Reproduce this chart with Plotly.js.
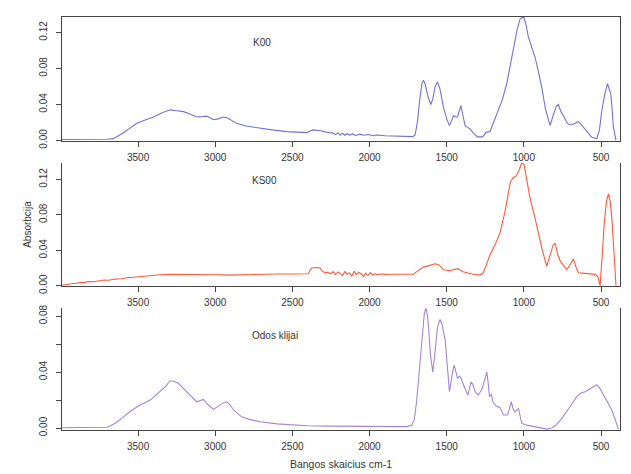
<!DOCTYPE html>
<html>
<head>
<meta charset="utf-8">
<script src="https://cdn.plot.ly/plotly-3.0.1.min.js"></script>
<style>html,body{margin:0;padding:0;background:#fff;}#chart{width:631px;height:474px;}</style>
</head>
<body>
<div id="chart"></div>
<script>
// K00 spectrum
const k00Wn = [3992,3900,3800,3700,3660,3600,3550,3508,3450,3400,3340,3290,3250,3206,3160,3120,3080,3055,3030,3012,2980,2950,2920,2861,2800,2709,2620,2536,2450,2407,2385,2364,2340,2321,2290,2260,2234,2220,2205,2190,2175,2160,2145,2130,2110,2090,2061,2040,2010,1980,1950,1900,1847,1800,1760,1720,1705,1690,1675,1660,1651,1640,1620,1603,1590,1575,1560,1545,1521,1500,1482,1465,1456,1440,1430,1418,1408,1395,1381,1365,1349,1331,1315,1301,1267,1245,1219,1200,1176,1140,1111,1090,1068,1045,1025,1010,999,985,971,950,927,905,884,860,830,810,790,776,760,743,725,711,679,660,646,625,603,580,560,527,510,495,475,458,447,437,428,420,403];
const k00Abs = [0.001,0.0012,0.0008,0.0013,0.002,0.008,0.014,0.019,0.023,0.026,0.031,0.034,0.033,0.032,0.029,0.026,0.0265,0.027,0.025,0.023,0.024,0.026,0.025,0.019,0.016,0.0135,0.0115,0.0098,0.009,0.0087,0.0105,0.0117,0.0112,0.011,0.0095,0.0085,0.008,0.0065,0.0085,0.006,0.0078,0.0058,0.0075,0.006,0.0072,0.0055,0.007,0.0058,0.0066,0.0055,0.006,0.0052,0.0048,0.0042,0.004,0.0042,0.006,0.02,0.045,0.064,0.067,0.063,0.048,0.040,0.046,0.060,0.065,0.058,0.037,0.024,0.0165,0.024,0.0275,0.026,0.026,0.033,0.0387,0.028,0.0165,0.0145,0.0128,0.009,0.006,0.004,0.004,0.009,0.010,0.018,0.029,0.045,0.063,0.082,0.103,0.122,0.135,0.1368,0.1365,0.128,0.115,0.104,0.092,0.076,0.059,0.035,0.0165,0.028,0.038,0.040,0.032,0.0275,0.021,0.018,0.018,0.020,0.021,0.017,0.0128,0.008,0.0035,0.002,0.012,0.033,0.052,0.063,0.058,0.052,0.035,0.015,0.0];

// KS00 spectrum
const ks00Wn = [3992,3960,3930,3900,3876,3850,3820,3790,3746,3720,3690,3650,3610,3573,3530,3480,3420,3357,3300,3271,3200,3100,3033,2980,2925,2850,2780,2709,2600,2500,2420,2396,2385,2375,2340,2321,2305,2290,2270,2250,2235,2220,2205,2190,2175,2160,2145,2130,2115,2100,2085,2070,2055,2040,2025,2010,1995,1980,1965,1950,1930,1900,1850,1802,1716,1690,1651,1610,1576,1550,1521,1500,1478,1450,1424,1400,1370,1330,1284,1265,1251,1219,1185,1154,1122,1089,1070,1050,1030,1014,999,980,960,930,906,880,852,830,810,798,780,765,740,722,700,679,660,646,620,592,560,538,520,506,490,480,465,452,440,430,415,403];
const ks00Abs = [0.0005,0.001,0.0022,0.0028,0.0037,0.0035,0.0048,0.0045,0.0056,0.0065,0.0062,0.0075,0.0078,0.009,0.0095,0.0105,0.0115,0.0124,0.013,0.013,0.0132,0.013,0.0128,0.0124,0.012,0.0124,0.0128,0.013,0.0132,0.0133,0.0135,0.0135,0.018,0.020,0.0205,0.020,0.016,0.015,0.0152,0.0135,0.016,0.0125,0.0155,0.014,0.0115,0.016,0.013,0.0145,0.011,0.0165,0.0125,0.015,0.0135,0.0105,0.014,0.0115,0.0148,0.012,0.0135,0.0125,0.0132,0.0128,0.013,0.0128,0.013,0.0165,0.021,0.023,0.0248,0.0235,0.018,0.0175,0.017,0.0185,0.019,0.016,0.0147,0.013,0.012,0.014,0.020,0.035,0.047,0.060,0.084,0.116,0.122,0.124,0.131,0.1386,0.137,0.118,0.099,0.078,0.058,0.040,0.022,0.035,0.046,0.048,0.035,0.028,0.022,0.018,0.024,0.030,0.020,0.0146,0.0142,0.014,0.0135,0.0128,0.010,0.0,0.040,0.069,0.095,0.1037,0.095,0.0766,0.035,0.0];

// Odos klijai spectrum
const odosWn = [3992,3900,3800,3700,3681,3640,3595,3550,3498,3460,3422,3390,3357,3320,3293,3270,3239,3200,3163,3120,3100,3077,3050,3012,2975,2940,2925,2900,2882,2828,2780,2709,2600,2494,2400,2277,2100,1900,1802,1760,1727,1710,1694,1675,1662,1645,1634,1622,1605,1590,1575,1560,1543,1530,1510,1495,1482,1465,1452,1440,1430,1418,1408,1391,1363,1342,1330,1316,1295,1282,1269,1255,1240,1230,1223,1210,1201,1180,1154,1132,1106,1095,1082,1070,1061,1048,1035,1025,1014,981,938,900,852,820,798,760,722,690,657,630,603,575,549,527,505,484,455,430,405,387];
const odosAbs = [0.0002,0.0002,0.0003,0.0006,0.0014,0.004,0.008,0.012,0.0157,0.018,0.020,0.023,0.026,0.030,0.0338,0.0335,0.032,0.028,0.0236,0.0188,0.0195,0.0205,0.017,0.0133,0.016,0.0185,0.0188,0.016,0.0129,0.008,0.0062,0.0045,0.003,0.0021,0.0016,0.0014,0.0012,0.001,0.0006,0.001,0.002,0.006,0.020,0.045,0.063,0.082,0.0857,0.078,0.052,0.040,0.055,0.072,0.0776,0.074,0.063,0.042,0.026,0.038,0.045,0.040,0.0355,0.037,0.036,0.0307,0.0236,0.033,0.031,0.026,0.0236,0.026,0.0283,0.034,0.040,0.031,0.0224,0.024,0.019,0.0157,0.0145,0.0093,0.0093,0.013,0.0188,0.014,0.0117,0.0125,0.014,0.009,0.0033,0.0021,0.001,0.0,-0.0008,0.0,0.0014,0.006,0.0117,0.017,0.0224,0.025,0.026,0.028,0.030,0.031,0.028,0.0236,0.018,0.0129,0.005,-0.001];

const xTickVals = [3500,3000,2500,2000,1500,1000,500];
const xTickText = ["3500","3000","2500","2000","1500","1000","500"];
const panelLabels = ["K00","KS00","Odos klijai"];
const xTitle = "Bangos skaicius cm-1";
const yTitle = "Absorbcija";

const FONT = "Liberation Sans, Arial, sans-serif";
const axisCol = "#444";
const tickFont = {family: FONT, size: 10, color: "#333"};

const traces = [
  {x: k00Wn, y: k00Abs, xaxis: "x", yaxis: "y", type: "scatter", mode: "lines", line: {color: "#7570d4", width: 1.1}, hoverinfo: "skip"},
  {x: ks00Wn, y: ks00Abs, xaxis: "x2", yaxis: "y2", type: "scatter", mode: "lines", line: {color: "#ff5a3a", width: 1.1}, hoverinfo: "skip"},
  {x: odosWn, y: odosAbs, xaxis: "x3", yaxis: "y3", type: "scatter", mode: "lines", line: {color: "#a088d8", width: 1.1}, hoverinfo: "skip"}
];

function xax(anchor, mirror, extra) {
  return Object.assign({
    anchor: anchor, domain: [0, 1], range: [3993, 377], autorange: false,
    tickvals: xTickVals, ticktext: xTickText, ticks: "outside", ticklen: 5, tickcolor: axisCol,
    showline: true, linecolor: axisCol, linewidth: 1, mirror: mirror,
    showgrid: false, zeroline: false, tickfont: tickFont, ticklabelstandoff: 2
  }, extra || {});
}
function yax(anchor, domain, range, vals, text, extra) {
  return Object.assign({
    anchor: anchor, domain: domain, range: range, autorange: false,
    tickvals: vals, ticktext: text, ticks: "outside", ticklen: 5, tickcolor: axisCol, tickangle: -90,
    showline: true, linecolor: axisCol, linewidth: 1, mirror: true,
    showgrid: false, zeroline: false, tickfont: tickFont, ticklabelstandoff: 5
  }, extra || {});
}

const layout = {
  width: 631, height: 474,
  margin: {l: 62, r: 11, t: 17, b: 44},
  paper_bgcolor: "#fff", plot_bgcolor: "#fff",
  showlegend: false,
  font: {family: FONT, color: "#333"},
  xaxis: xax("y", true),
  xaxis2: xax("y2", false),
  xaxis3: xax("y3", false, {title: {text: xTitle, font: {family: FONT, size: 10.5, color: "#333"}, standoff: 9}}),
  yaxis: yax("x", [0.6998, 1], [-0.0006, 0.1372], [0, 0.04, 0.08, 0.12], ["0.00","0.04","0.08","0.12"]),
  yaxis2: yax("x2", [0.3487, 0.6465], [-0.0003, 0.1386], [0, 0.04, 0.08, 0.12], ["0.00","0.04","0.08","0.12"],
    {title: {text: yTitle, font: {family: FONT, size: 10, color: "#333"}, standoff: 4}}),
  yaxis3: yax("x3", [0, 0.2954], [-0.0014, 0.0858], [0, 0.02, 0.04, 0.06, 0.08], ["0.00","","0.04","","0.08"]),
  annotations: [
    {text: panelLabels[0], xref: "x", yref: "y", x: 2696, y: 0.109, showarrow: false, font: {family: FONT, size: 10, color: "#333"}},
    {text: panelLabels[1], xref: "x2", yref: "y2", x: 2683, y: 0.119, showarrow: false, font: {family: FONT, size: 10, color: "#333"}},
    {text: panelLabels[2], xref: "x3", yref: "y3", x: 2612, y: 0.0664, showarrow: false, font: {family: FONT, size: 10, color: "#333"}}
  ]
};

Plotly.newPlot("chart", traces, layout, {displayModeBar: false, staticPlot: true});
</script>
</body>
</html>
